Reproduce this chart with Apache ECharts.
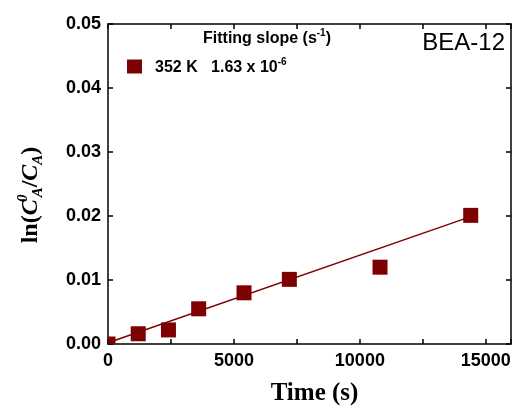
<!DOCTYPE html>
<html>
<head>
<meta charset="utf-8">
<script src="https://cdn.jsdelivr.net/npm/echarts@6/dist/echarts.min.js"></script>
<style>html,body{margin:0;padding:0;background:#fff}#c{width:516px;height:414px}</style>
</head>
<body>
<div id="c"></div>
<script>
// Data
var timeS = [0, 1200, 2400, 3600, 5400, 7200, 10800, 14400];
var lnRatio = [0.0000, 0.0016, 0.0022, 0.0055, 0.0080, 0.0101, 0.0120, 0.0201];
var fitX = [0, 14400];
var fitY = [0.0002, 0.0199];
var seriesName = '352 K';
var slopeMantissa = '1.63 x 10';
var slopeExp = '-6';
var xTicks = [0, 5000, 10000, 15000];
var yTicks = [0.00, 0.01, 0.02, 0.03, 0.04, 0.05];
var sampleLabel = 'BEA-12';

(function () {
var red = '#7f0000';
var chart = echarts.init(document.getElementById('c'));
var axisFont = {fontFamily: 'Liberation Sans, Arial', fontWeight: 'bold', fontSize: 18, color: '#000'};
var gL = 108, gR = 5, gT = 24, gB = 70;
var markSize = 15;

function boxAxis(extra) {
  return Object.assign({
    axisLine: {show: true, onZero: false, lineStyle: {color: '#000', width: 1.5}},
    axisTick: {show: true, inside: true, length: 5, lineStyle: {color: '#000', width: 1.5}},
    splitLine: {show: false}
  }, extra);
}
var supRich = {
  m: {fontFamily: 'Liberation Sans, Arial', fontWeight: 'bold', fontSize: 16, color: '#000', lineHeight: 19, verticalAlign: 'bottom'},
  s: {fontFamily: 'Liberation Sans, Arial', fontWeight: 'bold', fontSize: 10, color: '#000', lineHeight: 19, verticalAlign: 'top'}
};
var serif = 'Liberation Serif, Times New Roman';

chart.setOption({
  animation: false,
  title: {
    text: '{m|Fitting slope (s}{s|-1}{m|)}',
    left: 262, top: 23, textAlign: 'center',
    textStyle: {rich: supRich}
  },
  legend: {
    show: true, left: 122, top: 52, icon: 'rect', itemWidth: 15, itemHeight: 14, itemGap: 4,
    data: [seriesName],
    formatter: function (n) { return '{m|' + n + '   ' + slopeMantissa + '}{s|' + slopeExp + '}'; },
    textStyle: {padding: [0, 0, 0, 8], rich: supRich}
  },
  graphic: [{
    type: 'text', right: 11, top: 31,
    style: {text: sampleLabel, font: '24px "Liberation Sans", Arial', fill: '#000'}
  }],
  grid: {left: gL, right: gR, top: gT, bottom: gB, containLabel: false},
  xAxis: [
    boxAxis({type: 'value', min: 0, max: 16000, interval: 5000, position: 'bottom',
      minorTick: {show: true, splitNumber: 2, length: 5, lineStyle: {color: '#000', width: 1.5}},
      axisLabel: Object.assign({margin: 8, formatter: function (v) { return xTicks.indexOf(v) >= 0 ? String(v) : ''; }}, axisFont),
      name: 'Time (s)', nameLocation: 'middle', nameGap: 37,
      nameTextStyle: {fontFamily: serif, fontWeight: 'bold', fontSize: 25, color: '#000', padding: [0, 0, 0, 10]}}),
    boxAxis({type: 'value', min: 0, max: 16000, interval: 2500, position: 'top', axisLabel: {show: false}})
  ],
  yAxis: [
    boxAxis({type: 'value', min: 0, max: 0.05, interval: 0.01, position: 'left',
      axisLabel: Object.assign({margin: 7, formatter: function (v) { return v.toFixed(2); }}, axisFont),
      name: '{b|ln(}{i|C}{sup|0}{sub|A}{b|/}{i|C}{sub|A}{b|)}', nameLocation: 'middle', nameGap: 62, nameRotate: 90,
      nameTextStyle: {padding: [0, 22, 0, 0], rich: {
        b: {fontFamily: serif, fontWeight: 'bold', fontSize: 24, color: '#000', lineHeight: 30, verticalAlign: 'middle'},
        i: {fontFamily: serif, fontWeight: 'bold', fontStyle: 'italic', fontSize: 24, color: '#000', lineHeight: 30, verticalAlign: 'middle'},
        sup: {fontFamily: serif, fontWeight: 'bold', fontStyle: 'italic', fontSize: 15, color: '#000', lineHeight: 30, verticalAlign: 'top', width: 2},
        sub: {fontFamily: serif, fontWeight: 'bold', fontStyle: 'italic', fontSize: 15, color: '#000', lineHeight: 30, verticalAlign: 'bottom'}
      }}}),
    boxAxis({type: 'value', min: 0, max: 0.05, interval: 0.01, position: 'right', axisLabel: {show: false}})
  ],
  series: [
    {name: seriesName, type: 'custom', itemStyle: {color: red}, z: 3,
      encode: {x: 0, y: 1},
      data: timeS.map(function (t, i) { return [t, lnRatio[i]]; }),
      renderItem: function (params, api) {
        var p = api.coord([api.value(0), api.value(1)]);
        var cs = params.coordSys;
        var r = echarts.graphic.clipRectByRect(
          {x: p[0] - markSize / 2, y: p[1] - markSize / 2, width: markSize, height: markSize},
          {x: cs.x, y: cs.y, width: cs.width, height: cs.height});
        return r ? {type: 'rect', shape: r, style: {fill: red}} : null;
      }},
    {name: 'fit', type: 'line', showSymbol: false, symbol: 'none', lineStyle: {color: red, width: 1.5},
      data: fitX.map(function (t, i) { return [t, fitY[i]]; }), z: 2}
  ]
});
})();
</script>
</body>
</html>
